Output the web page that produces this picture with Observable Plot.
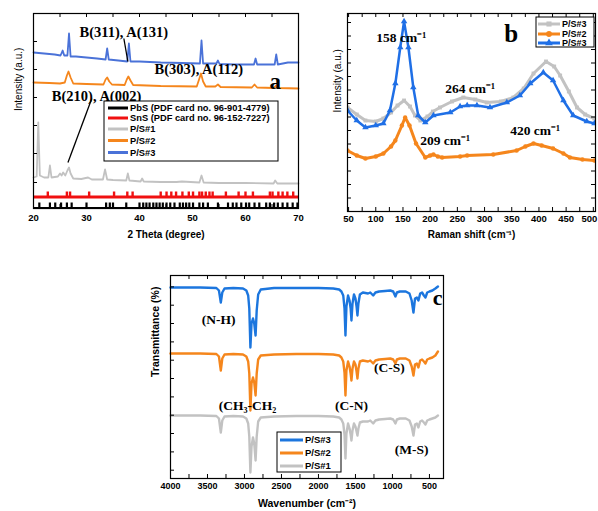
<!DOCTYPE html>
<html><head><meta charset="utf-8">
<script src="https://cdn.jsdelivr.net/npm/d3@7"></script>
<script src="https://cdn.jsdelivr.net/npm/@observablehq/plot@0.6"></script>
<style>
body{margin:0;background:#fff;}
#wrap{position:relative;width:598px;height:511px;overflow:hidden;}
#wrap svg{position:absolute;overflow:visible;}
</style></head><body><div id="wrap"></div>
<script>
// ---------- colours ----------
const cBlueA = "#4a72d8", cOrange = "#f5861c", cGray = "#c2c2c2", cRed = "#f01010", cBlack = "#000", cBlueB = "#1f6fe6", cBlueC = "#1c76de";
const sans = "Liberation Sans, Arial, sans-serif", serif = "Liberation Serif, Times New Roman, serif";

// ---------- panel a : XRD ----------
const xrdTicks = [20, 30, 40, 50, 60, 70];
const xrdMinor = [20, 25, 30, 35, 40, 45, 50, 55, 60, 65, 70];
const xrdYTicks = [26, 55, 83, 111, 139, 167];
const xrdBlue = [[20,156],[22,155],[24,154],[25.1,153],[25.5,158],[25.8,153],[26.4,153],[26.7,175],[27.0,152],[28,152],[30,151],[32,150],[33.6,149],[33.9,160],[34.2,149],[36,148],[37.7,147],[38.0,165],[38.3,147],[40,147],[44,146],[48,145.5],[51.4,145],[51.7,168],[52.0,145],[54.5,145],[54.8,148],[55.1,144.5],[58,144],[61.6,144],[61.9,150],[62.2,144],[64,144],[65.5,144],[65.8,154],[66.1,144],[68,146],[70,146]];
const xrdOrange = [[20,126],[23,125.5],[25,125],[25.9,126],[26.3,133],[26.6,137],[27.0,131],[27.5,125],[30,124.5],[33.2,124],[33.6,129],[33.9,131],[34.3,127],[34.8,124],[37.2,123.5],[37.6,129],[37.9,132],[38.3,128],[38.8,123.5],[44,122.5],[50.8,122],[51.3,130],[51.6,135],[52.0,127],[52.5,122],[54.3,122],[54.8,124],[55.3,121.5],[61.2,121],[61.7,124],[62.2,121],[65.3,120.5],[65.8,123],[66.3,120.5],[70,120]];
const xrdGray = [[20.0,31],[20.6,32],[20.9,86],[21.2,33],[22,31],[22.8,31],[23.1,43],[23.4,31],[24.6,32],[25.0,35],[25.3,33],[25.6,36],[26.0,33],[26.4,38],[26.7,41],[27.0,35],[27.5,30],[29,29.5],[30.3,31],[31,29],[33.1,29],[33.5,39],[33.9,29],[35,28.5],[37.5,28],[37.8,35],[38.1,28],[40.2,27],[40.5,30],[40.8,27],[44,26.5],[47,26.5],[48,27],[51.3,26],[51.7,33],[52.1,26],[55,25.5],[60,25.5],[65.3,25],[65.6,28],[66.0,25],[70,25]];
const snsPeaks = [22.7,26.3,26.9,30.5,35.2,37.7,38.7,44.0,45.1,46.0,46.9,48.1,49.3,50.1,51.3,51.8,52.5,53.2,53.8,56.3,58.7,60.0,61.4,64.6,65.1,66.2,67.0,67.9,69.0];
const pbsPeaks = [21.1,23.1,24.1,25.2,26.3,27.2,30.0,33.7,34.4,35.0,37.5,40.0,40.7,41.3,41.9,42.6,43.2,43.8,44.4,45.1,45.8,46.6,47.6,48.2,48.8,49.4,50.1,51.3,52.0,52.9,54.8,56.7,57.6,58.3,59.2,60.1,60.7,61.7,62.6,63.9,64.6,65.4,66.1,67.0,67.9,68.9,69.8];
const snsLevel = [11.5, 16.5];
const pbsLevel = [0.5, 5.5];
const xrdNotes = [
  {x: 37.05, y: 176, t: "B(311), A(131)", s: 14.5, w: "bold"},
  {x: 51.2, y: 139, t: "B(303), A(112)", s: 14.5, w: "bold"},
  {x: 31.9, y: 112, t: "B(210), A(002)", s: 14.5, w: "bold"},
  {x: 65.6, y: 127, t: "a", s: 23, w: "bold"}
];
const xrdLeaders = [
  {x1: 37.05, y1: 170, x2: 37.8, y2: 147},
  {x1: 31.0, y1: 110, x2: 26.5, y2: 46}
];
const xrdLegend = [
  {label: "PbS (PDF card no. 96-901-4779)", color: cBlack},
  {label: "SnS (PDF card no. 96-152-7227)", color: cRed},
  {label: "P/S#1", color: cGray},
  {label: "P/S#2", color: cOrange},
  {label: "P/S#3", color: cBlueA}
];

// ---------- panel b : Raman ----------
const ramanTicks = [50,100,150,200,250,300,350,400,450,500];
const ramanMinor = [50,75,100,125,150,175,200,225,250,275,300,325,350,375,400,425,450,475,500];
const ramanYTicks = [13.5,27,40.5,54,67.5,81,94.5,108,121.5,135,148.5,162,175.5,189];
const ramanGray = [[48,104],[65,97],[81,91],[100,90],[114,93],[128,99],[140,106],[152,111],[163,105],[172,96],[182,91],[195,95],[205,100],[218,104],[240,110],[261,114],[283,112],[304,109],[330,110],[353,114],[372,123],[390,138],[413,150],[428,145],[439,136],[455,120],[470,104],[485,97],[502,93]];
const ramanOrange = [[48,61],[65,56],[81,53],[100,55],[114,58],[128,65],[136,71],[148,86],[154,94],[162,86],[174,68],[191,54],[200,56],[206,57],[214,55],[222,54],[255,55],[268,56],[316,57],[359,61],[375,65],[390,68],[405,66],[426,63],[445,58],[457,54],[480,52],[502,51]];
const ramanBlue = [[48,101],[65,91],[81,84],[100,86],[114,88],[126,101],[136,128],[145,164],[152,190],[160,164],[169,124],[178,96],[191,89],[206,96],[237,99],[255,105],[268,106],[286,106],[310,104],[341,109],[365,116],[384,128],[408,139],[426,131],[445,111],[463,96],[488,90],[502,88]];
const ramanNotes = [
  {x: 146.8, y: 174, t: "158 cm\u207B\u00B9", s: 13.5, w: "bold"},
  {x: 273.5, y: 123, t: "264 cm\u207B\u00B9", s: 13.5, w: "bold"},
  {x: 227.6, y: 71, t: "209 cm\u207B\u00B9", s: 13.5, w: "bold"},
  {x: 393, y: 81, t: "420 cm\u207B\u00B9", s: 13.5, w: "bold"},
  {x: 348.8, y: 178, t: "b", s: 25, w: "bold"}
];
const ramanLegend = [
  {label: "P/S#3", color: cGray, symbol: "square"},
  {label: "P/S#2", color: cOrange, symbol: "circle"},
  {label: "P/S#3", color: cBlueB, symbol: "triangle"}
];

// ---------- panel c : FTIR ----------
const ftirTicks = [4000,3500,3000,2500,2000,1500,1000,500];
const ftirMinor = [4000,3750,3500,3250,3000,2750,2500,2250,2000,1750,1500,1250,1000,750,500];
const ftirYTicks = [8.3,26.6,45,63.3,81.6,100,118.3,136.6,155,173.3,191.6];
const wavenumber = [4000,3600,3380,3345,3320,3300,3270,3150,3020,2975,2950,2935,2920,2905,2885,2868,2850,2835,2815,2780,2600,2300,2000,1800,1720,1690,1665,1648,1635,1622,1600,1580,1565,1554,1540,1520,1500,1485,1473,1460,1440,1400,1330,1300,1260,1230,1180,1100,1030,990,960,940,900,820,770,740,716,695,670,649,625,600,575,554,530,500,460,420,385];
const ftirBlue = [191,191,190.5,188,176,186,190,190.5,190,188,183,170,131,155,160,155,143,168,184,189,190.5,190.5,190.5,190,189,187,183,170,143,172,183,178,170,158,175,184,180,172,163,175,184,186,185,186,183,186,187,187.5,188,187,182,186,187,187,185,178,166,180,181,178,185,186,183,181,186,187,188,190,192];
const ftirOrange = [125,125,124.5,122,108,120,124,124.5,124,122,117,105,68,95,101,96,83,105,119,123,124,124.5,124.5,124,123,121,117,106,83,108,117,112,105,98,110,117,114,107,100,110,117,118,117,118,115,118,119,119.5,120,119,115,119,120,120,118,112,103,114,115,111,118,119,117,115,119,120,121,123,127];
const ftirGray = [63,63,62.5,60,46,58,62,62.5,62,60,55,42,6,32,41,35,18,42,57,61,62,62.5,62.5,62,61,59,55,44,20,45,55,50,44,38,48,55,52,47,43,50,56,57,57,58,55,58,59,59.5,60,59,55,59,60,60,58,52,43,54,55,51,57,58,56,54,58,59,60,61,63];
const ftirNotes = [
  {x: 3351, y: 159, t: "(N-H)", s: 13.5, w: "bold"},
  {x: 2959, y: 73, t: "(CH\u2083-CH\u2082", s: 13.5, w: "bold"},
  {x: 1553, y: 73, t: "(C-N)", s: 13.5, w: "bold"},
  {x: 1040, y: 111, t: "(C-S)", s: 13.5, w: "bold"},
  {x: 742, y: 29, t: "(M-S)", s: 13.5, w: "bold"},
  {x: 391, y: 181, t: "c", s: 22, w: "bold"}
];
const ftirLegend = [
  {label: "P/S#3", color: cBlueC},
  {label: "P/S#2", color: cOrange},
  {label: "P/S#1", color: cGray}
];

// ---------- helpers ----------
const wrap = document.getElementById("wrap");
function place(svg, left, top) { svg.style.left = left + "px"; svg.style.top = top + "px"; wrap.appendChild(svg); }
function tickMarks(xMinor, yTicks, fw, fh, opts = {}) {
  const L = 4;
  const m = [
    Plot.ruleX(xMinor, {x: d => d, insetTop: fh - L, stroke: "#000"}),
    Plot.ruleX(xMinor, {x: d => d, insetBottom: fh - L, stroke: "#000"}),
    Plot.ruleY(yTicks, {y: d => d, insetRight: fw - L, stroke: "#000"})
  ];
  if (opts.right) m.push(Plot.ruleY(yTicks, {y: d => d, insetLeft: fw - L, stroke: "#000"}));
  return m;
}
function notes(arr) {
  return arr.map(n => Plot.text([n], {x: "x", y: "y", text: "t", fontSize: n.s, fontWeight: n.w, fontFamily: serif, fill: "#000", textAnchor: "middle", lineAnchor: "middle"}));
}
const baseStyle = {fontFamily: sans, fontWeight: "bold", color: "#000", background: "transparent", overflow: "visible"};

// ---------- panel a ----------
{
  const W = 300, H = 240, mL = 33, mR = 2, mT = 13, mB = 32;
  const fw = W - mL - mR, fh = H - mT - mB;
  const p = Plot.plot({
    width: W, height: H, marginLeft: mL, marginRight: mR, marginTop: mT, marginBottom: mB,
    x: {domain: [20, 70], axis: null}, y: {domain: [0, 195], axis: null},
    style: baseStyle,
    marks: [
      Plot.ruleY([snsLevel[0]], {stroke: cRed, strokeWidth: 3}),
      Plot.ruleX(snsPeaks, {x: d => d, y1: snsLevel[0], y2: snsLevel[1], stroke: cRed, strokeWidth: 2.4}),
      Plot.ruleY([pbsLevel[0]], {stroke: cBlack, strokeWidth: 2}),
      Plot.ruleX(pbsPeaks, {x: d => d, y1: pbsLevel[0], y2: pbsLevel[1], stroke: cBlack, strokeWidth: 2.2}),
      Plot.line(xrdGray, {x: d => d[0], y: d => d[1], stroke: cGray, strokeWidth: 1.8}),
      Plot.line(xrdOrange, {x: d => d[0], y: d => d[1], stroke: cOrange, strokeWidth: 1.8}),
      Plot.line(xrdBlue, {x: d => d[0], y: d => d[1], stroke: cBlueA, strokeWidth: 1.8}),
      Plot.link(xrdLeaders, {x1: "x1", y1: "y1", x2: "x2", y2: "y2", stroke: "#000", strokeWidth: 1.3}),
      ...notes(xrdNotes),
      Plot.frame({stroke: "#000", strokeWidth: 1.2}),
      ...tickMarks(xrdMinor, xrdYTicks, fw, fh),
      Plot.text(xrdTicks, {x: d => d, frameAnchor: "bottom", dy: 12, text: d => String(d), fontSize: 9.5}),
      Plot.text(["2 Theta (degree)"], {frameAnchor: "bottom", dy: 29, fontSize: 10}),
      Plot.text(["Intensity (a.u.)"], {frameAnchor: "left", rotate: -90, dx: -15, fontSize: 10, fontWeight: "normal"})
    ]
  });
  place(p, 0, 0);
}

// ---------- panel b ----------
{
  const W = 298, H = 240, mL = 47, mR = 3, mT = 13, mB = 29;
  const fw = W - mL - mR, fh = H - mT - mB;
  const innerTicks = ramanTicks.filter(d => d < 500);
  const lastTick = ramanTicks.filter(d => d >= 500);
  const p = Plot.plot({
    width: W, height: H, marginLeft: mL, marginRight: mR, marginTop: mT, marginBottom: mB,
    x: {domain: [48, 504], axis: null}, y: {domain: [0, 198], axis: null},
    style: baseStyle,
    marks: [
      Plot.line(ramanGray, {x: d => d[0], y: d => d[1], stroke: cGray, strokeWidth: 3, clip: true}),
      Plot.dot(ramanGray, {x: d => d[0], y: d => d[1], symbol: "square", r: 2.2, fill: cGray, clip: true}),
      Plot.line(ramanOrange, {x: d => d[0], y: d => d[1], stroke: cOrange, strokeWidth: 3, clip: true}),
      Plot.dot(ramanOrange, {x: d => d[0], y: d => d[1], symbol: "circle", r: 2.2, fill: cOrange, clip: true}),
      Plot.line(ramanBlue, {x: d => d[0], y: d => d[1], stroke: cBlueB, strokeWidth: 2.5, clip: true}),
      Plot.dot(ramanBlue, {x: d => d[0], y: d => d[1], symbol: "triangle", r: 2.4, fill: cBlueB, clip: true}),
      ...notes(ramanNotes),
      Plot.frame({stroke: "#000", strokeWidth: 1.2}),
      ...tickMarks(ramanMinor, ramanYTicks, fw, fh, {right: true}),
      Plot.text(innerTicks, {x: d => d, frameAnchor: "bottom", dy: 10, text: d => String(d), fontSize: 9.5}),
      Plot.text(lastTick, {x: d => d, frameAnchor: "bottom", dy: 10, dx: 4, text: d => String(d), fontSize: 9.5, textAnchor: "end"}),
      Plot.text(["Raman shift (cm\u207B\u00B9)"], {frameAnchor: "bottom", dy: 26, fontSize: 10}),
      Plot.text(["Intensity (a.u.)"], {frameAnchor: "left", rotate: -90, dx: -10, fontSize: 10, fontWeight: "normal"})
    ]
  });
  place(p, 300, 0);
}

// ---------- panel c ----------
{
  const W = 598, H = 271, mL = 170, mR = 155, mT = 35, mB = 33;
  const fw = W - mL - mR, fh = H - mT - mB;
  const rows = (vals) => wavenumber.map((w, i) => [w, vals[i]]);
  const p = Plot.plot({
    width: W, height: H, marginLeft: mL, marginRight: mR, marginTop: mT, marginBottom: mB,
    x: {domain: [4000, 310], axis: null}, y: {domain: [0, 203], axis: null},
    style: baseStyle,
    marks: [
      Plot.line(rows(ftirGray), {x: d => d[0], y: d => d[1], stroke: cGray, strokeWidth: 2.4}),
      Plot.line(rows(ftirOrange), {x: d => d[0], y: d => d[1], stroke: cOrange, strokeWidth: 2.4}),
      Plot.line(rows(ftirBlue), {x: d => d[0], y: d => d[1], stroke: cBlueC, strokeWidth: 2.4}),
      ...notes(ftirNotes),
      Plot.frame({stroke: "#000", strokeWidth: 1.2}),
      ...tickMarks(ftirMinor, ftirYTicks, fw, fh),
      Plot.text(ftirTicks, {x: d => d, frameAnchor: "bottom", dy: 10, text: d => String(d), fontSize: 9}),
      Plot.text(["Wavenumber (cm\u207B\u00B2)"], {frameAnchor: "bottom", dy: 28, fontSize: 10.5}),
      Plot.text(["Transmittance (%)"], {frameAnchor: "left", rotate: -90, dx: -15, fontSize: 10.5})
    ]
  });
  place(p, 0, 240);
}

// ---------- legends ----------
{
  const svg = d3.create("svg").attr("width", 598).attr("height", 511).style("left", "0px").style("top", "0px")
    .attr("font-family", sans).attr("font-weight", "bold");
  function legend(items, box, rowsY, swX, textX, fs, symbols) {
    svg.append("rect").attr("x", box[0]).attr("y", box[1]).attr("width", box[2]).attr("height", box[3])
      .attr("fill", "#fff").attr("stroke", "#000").attr("stroke-width", 1);
    items.forEach((it, i) => {
      const y = rowsY[i];
      svg.append("line").attr("x1", swX[0]).attr("x2", swX[1]).attr("y1", y).attr("y2", y)
        .attr("stroke", it.color).attr("stroke-width", 3);
      if (symbols && it.symbol) {
        const sym = it.symbol === "square" ? d3.symbolSquare : it.symbol === "circle" ? d3.symbolCircle : d3.symbolTriangle;
        svg.append("path").attr("d", d3.symbol(sym, 26)()).attr("transform", `translate(${(swX[0]+swX[1])/2},${y})`).attr("fill", it.color);
      }
      svg.append("text").attr("x", textX).attr("y", y).attr("dy", "0.35em").attr("font-size", fs).text(it.label);
    });
  }
  legend(xrdLegend, [104, 101, 174, 60], [108, 118, 129, 140.5, 152.5], [108, 128], 130, 9.3, false);
  legend(ramanLegend, [536, 17, 58, 30], [24, 34, 43], [538, 560], 562, 9, true);
  legend(ftirLegend, [277, 432, 64, 40], [440, 453, 466], [280, 303], 305, 9.5, false);
  wrap.appendChild(svg.node());
}
</script></body></html>
